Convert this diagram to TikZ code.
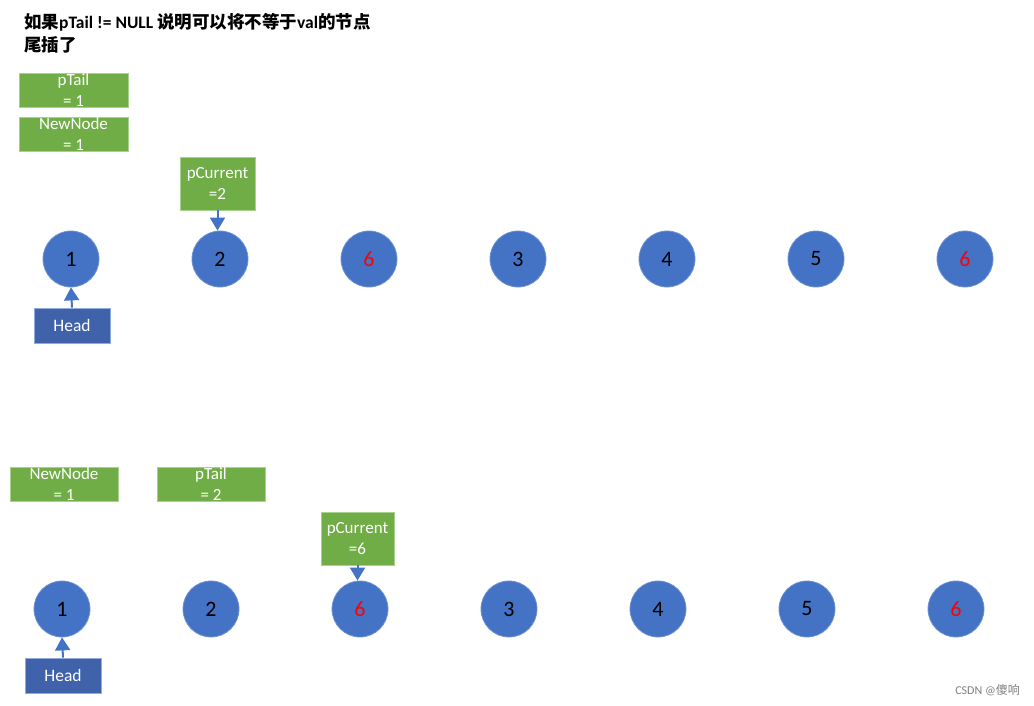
\documentclass[tikz,border=0pt]{standalone}
\usepackage{fontspec}
\setmainfont{Carlito}
\newfontfamily\cjk{Noto Sans CJK SC}
\usetikzlibrary{arrows.meta, positioning}
\definecolor{nodeblue}{HTML}{4472C4}
\definecolor{nodeedge}{HTML}{6F93D3}
\definecolor{ptrgreen}{HTML}{70AD47}
\definecolor{ptredge}{HTML}{A9D18E}
\definecolor{headblue}{HTML}{3F62AA}
\definecolor{headedge}{HTML}{8FAADC}

\begin{document}
\begin{tikzpicture}[x=1pt, y=-1pt,
    listnode/.style={draw=nodeedge, line width=0.8pt, circle, fill=nodeblue, minimum size=56pt, inner sep=0pt, font=\fontsize{22}{26}\selectfont},
    ptrbox/.style={draw=ptredge, line width=0.8pt, rectangle, fill=ptrgreen, text=white, inner sep=0pt, align=center, font=\fontsize{17}{20.5}\selectfont},
    headbox/.style={draw=headedge, line width=0.8pt, rectangle, fill=headblue, text=white, minimum width=76pt, minimum height=35pt, inner sep=0pt, font=\fontsize{17.5}{20}\selectfont},
    ptr/.style={-{Triangle[width=15pt,length=13pt]}, line width=2pt, nodeblue}]
    \useasboundingbox (0,0) rectangle (1034,706);
    % 标题
    \node[anchor=north west, align=left, inner sep=0pt, font=\fontsize{17.5}{23}\selectfont\bfseries] (title) at (24,13)
        {{\cjk 如果}pTail != NULL {\cjk 说明可以将不等于}val{\cjk 的节点}\\{\cjk 尾插了}};
    % 上面一行
    \foreach \v/\c [count=\i] in {1/black,2/black,6/red,3/black,4/black,5/black,6/red} {
        \node[listnode, text=\c] (T\i) at ({71+149*(\i-1)},259) {\v};
    }
    \node[ptrbox, minimum width=109pt, minimum height=34pt] (tailA) at (73.5,90) {pTail\\= 1};
    \node[ptrbox, minimum width=109pt, minimum height=34pt] (newA) at (73.5,134) {NewNode\\= 1};
    \node[ptrbox, minimum width=75pt, minimum height=53pt] (curA) at (217.5,183.5) {pCurrent\\=2};
    \node[headbox] (headA) at (72,325.5) {Head};
    \draw[ptr] (curA.south) -- (curA.south |- T2.north);
    \draw[ptr] (headA.north) -- (T1.south);
    % 下面一行
    \foreach \v/\c [count=\i] in {1/black,2/black,6/red,3/black,4/black,5/black,6/red} {
        \node[listnode, text=\c] (B\i) at ({62+149*(\i-1)},609) {\v};
    }
    \node[ptrbox, minimum width=108pt, minimum height=34pt] (newB) at (64,484) {NewNode\\= 1};
    \node[ptrbox, minimum width=108pt, minimum height=34pt] (tailB) at (211,484) {pTail\\= 2};
    \node[ptrbox, minimum width=73pt, minimum height=53pt] (curB) at (357.5,538.5) {pCurrent\\=6};
    \node[headbox] (headB) at (63,675.5) {Head};
    \draw[ptr] (curB.south) -- (curB.south |- B3.north);
    \draw[ptr] (headB.north) -- (B1.south);
    % 水印
    \node[anchor=east, inner sep=0pt, text=gray, font=\fontsize{12}{14}\selectfont] (mark) at (1020,690) {CSDN @{\cjk 傻响}};
\end{tikzpicture}
\end{document}
